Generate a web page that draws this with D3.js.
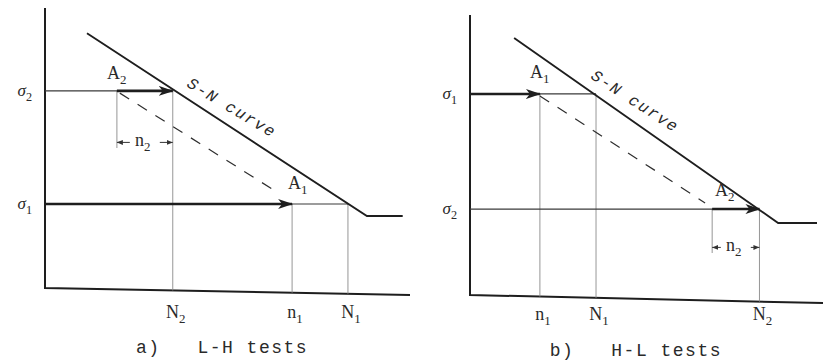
<!DOCTYPE html>
<html>
<head>
<meta charset="utf-8">
<script src="https://cdn.jsdelivr.net/npm/d3@7"></script>
<style>
  body { margin: 0; background: #fff; }
  text { fill: #2a2a2a; }
</style>
</head>
<body>
<div id="root"></div>
<script>
// values, both panels use a 0..100 frame (x = log N, y = stress)
var captions = ["a)   L-H tests", "b)   H-L tests"];
var snCurveA = [[11.5, 91], [88.2, 25.7], [98, 25.7]];
var snCurveB = [[12.5, 91.8], [87.3, 25.7], [98.3, 25.7]];
var stressA = [{ sub: "2", v: 70.4 }, { sub: "1", v: 30 }];
var stressB = [{ sub: "1", v: 71.8 }, { sub: "2", v: 30.7 }];
// thick load paths: level, start, end (arrow at end)
var loadA = [{ v: 70.4, from: 19.7, to: 35 }, { v: 30, from: 0, to: 67.7 }];
var loadB = [{ v: 71.8, from: 0, to: 19.8 }, { v: 30.7, from: 68.6, to: 82 }];
// cycle marks on the N axis: letter, subscript, position, stress level the guide starts from
var ticksA = [["N", "2", 35, 70.4], ["n", "1", 67.7, 30], ["N", "1", 83, 30]];
var ticksB = [["n", "1", 19.8, 71.8], ["N", "1", 35.7, 71.8], ["N", "2", 82, 30.7]];
// damage line between A points
var dashA = [[20.5, 69.6], [64, 33.9]];
var dashB = [[19.8, 71.1], [66.6, 32.9]];
// points A: name, sub, x, y
var pointsA = [["A", "2", 17, 74.5], ["A", "1", 66.6, 35.5]];
var pointsB = [["A", "1", 17, 77.5], ["A", "2", 69.4, 35.5]];
// n2 dimension: level, from, to
var dimA = { v: 52, from: 19.7, to: 35, top: 70.4 };
var dimB = { v: 17, from: 68.6, to: 82, top: 30.7 };
var labelSNA = [38.6, 72.1];
var labelSNB = [34, 77.5];

var w = 823, h = 363;
var svg = d3.select("#root").append("svg").attr("width", w).attr("height", h);

var defs = svg.append("defs");
defs.append("marker").attr("id", "head").attr("markerUnits", "userSpaceOnUse")
  .attr("viewBox", "0 -5 15 10").attr("refX", 14).attr("refY", 0)
  .attr("markerWidth", 15).attr("markerHeight", 10).attr("orient", "auto")
  .append("path").attr("d", "M0,-5L15,0L0,5L4,0Z").attr("fill", "#1e1e1e");
defs.append("marker").attr("id", "tiny").attr("markerUnits", "userSpaceOnUse")
  .attr("viewBox", "0 -3 6 6").attr("refX", 6).attr("refY", 0)
  .attr("markerWidth", 6).attr("markerHeight", 6).attr("orient", "auto")
  .append("path").attr("d", "M0,-2.5L6,0L0,2.5Z").attr("fill", "#333");

var panels = [
  { x0: 45, x1: 410, yb: 288, yt: 8, tilt: -2.5, curve: snCurveA, stress: stressA, load: loadA,
    ticks: ticksA, dash: dashA, points: pointsA, dim: dimA, sn: labelSNA, cap: captions[0], capX: 48.5, capY: 353, tickY: 318, snRot: 31 },
  { x0: 470, x1: 823, yb: 295, yt: 15, tilt: -2.9, curve: snCurveB, stress: stressB, load: loadB,
    ticks: ticksB, dash: dashB, points: pointsB, dim: dimB, sn: labelSNB, cap: captions[1], capX: 47, capY: 356, tickY: 320, snRot: 33 }
];

function subText(g, x, y, main, sub, opts) {
  var t = g.append("text").attr("x", x).attr("y", y)
    .attr("font-family", opts.family).attr("font-size", opts.size)
    .attr("text-anchor", opts.anchor || "start");
  t.append("tspan").text(main).attr("font-style", opts.italic ? "italic" : null);
  t.append("tspan").text(sub).attr("font-size", opts.size * 0.72).attr("dy", opts.size * 0.28);
  return t;
}

panels.forEach(function(p) {
  var x = d3.scaleLinear().domain([0, 100]).range([p.x0, p.x1]);
  var y = d3.scaleLinear().domain([0, 100]).range([p.yb, p.yt]);
  var base = function(u) { return p.tilt * u / 100; };
  var line = d3.line().x(function(d) { return x(d[0]); }).y(function(d) { return y(d[1]); });
  var g = svg.append("g");

  // axes
  g.append("path").attr("d", line([[0, 100], [0, 0], [100, p.tilt]]))
    .attr("fill", "none").attr("stroke", "#1e1e1e").attr("stroke-width", 2);

  // guides down to the N axis
  p.ticks.forEach(function(t) {
    g.append("path").attr("d", line([[t[2], t[3]], [t[2], base(t[2])]]))
      .attr("stroke", "#8a8a8a").attr("stroke-width", 0.9);
  });
  g.append("path").attr("d", line([[p.dim.from, p.dim.top], [p.dim.from, p.dim.v - 2]]))
    .attr("stroke", "#8a8a8a").attr("stroke-width", 0.9);

  // thin stress levels up to the curve
  p.stress.forEach(function(s, i) {
    var end = d3.max(p.ticks.filter(function(t) { return t[3] === s.v; }), function(t) { return t[2]; });
    g.append("path").attr("d", line([[0, s.v], [end, s.v]]))
      .attr("stroke", "#3a3a3a").attr("stroke-width", 1.2);
    subText(g, p.x0 - 13, y(s.v) + 5, "σ", s.sub, { family: "Liberation Serif", size: 17, anchor: "end", italic: true });
  });

  // thick load arrows
  p.load.forEach(function(l) {
    g.append("path").attr("d", line([[l.from, l.v], [l.to, l.v]]))
      .attr("stroke", "#1e1e1e").attr("stroke-width", 2.6).attr("marker-end", "url(#head)");
  });

  // S-N curve
  g.append("path").attr("d", line(p.curve)).attr("fill", "none")
    .attr("stroke", "#1e1e1e").attr("stroke-width", 1.9);

  // damage line
  g.append("path").attr("d", line(p.dash)).attr("stroke", "#2e2e2e")
    .attr("stroke-width", 1.2).attr("stroke-dasharray", "11,10");

  // n2 dimension
  var dm = (p.dim.from + p.dim.to) / 2, half = 15 / (x(1) - x(0));
  g.append("path").attr("d", line([[dm - half, p.dim.v], [p.dim.from, p.dim.v]]))
    .attr("stroke", "#333").attr("stroke-width", 1).attr("marker-end", "url(#tiny)");
  g.append("path").attr("d", line([[dm + half, p.dim.v], [p.dim.to, p.dim.v]]))
    .attr("stroke", "#333").attr("stroke-width", 1).attr("marker-end", "url(#tiny)");
  subText(g, x(dm) - 2, y(p.dim.v) + 4, "n", "2", { family: "Liberation Serif", size: 18, anchor: "middle" });

  // A points
  p.points.forEach(function(a) {
    subText(g, x(a[2]), y(a[3]), a[0], a[1], { family: "Liberation Serif", size: 18 });
  });

  // N axis labels
  p.ticks.forEach(function(t) {
    subText(g, x(t[2]) + 3, p.tickY, t[0], t[1], { family: "Liberation Serif", size: 18, anchor: "middle" });
  });

  // curve label
  g.append("text").attr("transform", "translate(" + x(p.sn[0]) + "," + y(p.sn[1]) + ") rotate(" + p.snRot + ")")
    .attr("font-family", "Liberation Mono").attr("font-size", 16).attr("font-style", "italic")
    .attr("letter-spacing", 1.6).text("S-N curve");

  // caption
  g.append("text").attr("x", x(p.capX)).attr("y", p.capY).attr("text-anchor", "middle")
    .attr("font-family", "Liberation Mono").attr("font-size", 18).attr("letter-spacing", 1.5)
    .attr("xml:space", "preserve").style("white-space", "pre").text(p.cap);
});
</script>
</body>
</html>
